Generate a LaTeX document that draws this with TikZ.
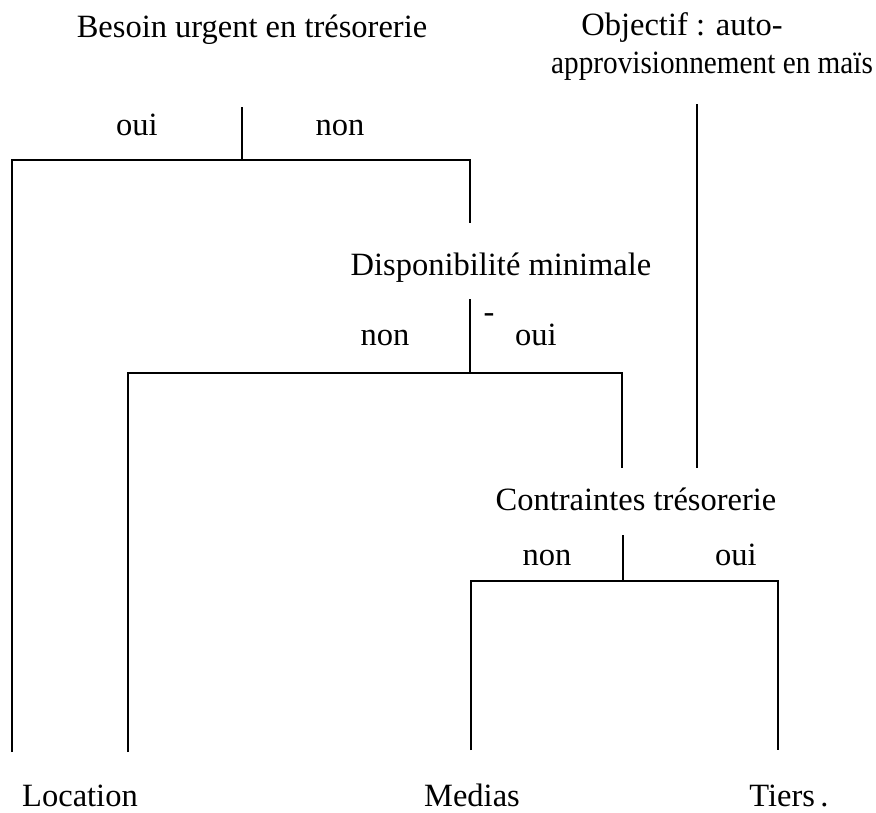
\documentclass[tikz,border=0pt]{standalone}
\usepackage{fontspec}
\setmainfont{Liberation Serif}
\begin{document}
\begin{tikzpicture}[x=1pt,y=-1pt,
  line width=2.2pt, line join=miter,
  lbl/.style={font=\fontsize{32.5}{38}\selectfont, inner sep=0pt, anchor=base}]
\useasboundingbox (0,0) rectangle (876,812);
% texts
\node[lbl] (besoin) at (252,37) {Besoin urgent en trésorerie};
\node[lbl] (obj1) at (682,35) {Objectif : auto-};
\node[lbl, anchor=base east] (obj2) at (874,73) {\scalebox{0.9}[1]{approvisionnement en maïs}};
\node[lbl] (oui1) at (137,135) {oui};
\node[lbl] (non1) at (340,135) {non};
\node[lbl] (dispo) at (501,275) {Disponibilité minimale};
\node[lbl] (dash) at (489,322) {-};
\node[lbl] (non2) at (385,345) {non};
\node[lbl] (oui2) at (536,345) {oui};
\node[lbl] (contr) at (636,510) {Contraintes trésorerie};
\node[lbl] (non3) at (547,565) {non};
\node[lbl] (oui3) at (736,565) {oui};
\node[lbl] (loc) at (80,806) {Location};
\node[lbl] (med) at (472,806) {Medias};
\node[lbl] (tiers) at (789,806) {Tiers\,.};
% junction coordinates
\coordinate (s1) at (242,107);
\coordinate (j1) at (242,160);
\coordinate (l1) at (12,160);
\coordinate (l1e) at (12,752);
\coordinate (r1) at (470,160);
\coordinate (r1e) at (470,223);
\coordinate (o1) at (697,104);
\coordinate (o1e) at (697,468);
\coordinate (s2) at (470,299);
\coordinate (j2) at (470,373);
\coordinate (l2) at (128,373);
\coordinate (l2e) at (128,752);
\coordinate (r2) at (622,373);
\coordinate (r2e) at (622,468);
\coordinate (s3) at (623,535);
\coordinate (j3) at (623,581);
\coordinate (l3) at (471,581);
\coordinate (l3e) at (471,750);
\coordinate (r3) at (778,581);
\coordinate (r3e) at (778,750);
% connectors
\draw (s1) -- (j1);
\draw (l1e) -- (l1) -- (r1) -- (r1e);
\draw (o1) -- (o1e);
\draw (s2) -- (j2);
\draw (l2e) -- (l2) -- (r2) -- (r2e);
\draw (s3) -- (j3);
\draw (l3e) -- (l3) -- (r3) -- (r3e);
\end{tikzpicture}
\end{document}
